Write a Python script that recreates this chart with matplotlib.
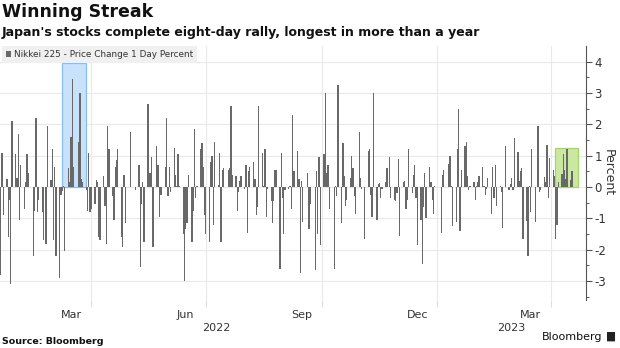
import numpy as np
import pandas as pd
import matplotlib.pyplot as plt
from matplotlib.patches import Rectangle, FancyBboxPatch

plt.rcParams['axes.unicode_minus'] = False

# Nikkei 225 daily % change, 19 Jan 2022 - 18 Apr 2023
pct_change = [
    -2.8, 1.1, -0.9, 0.25, -1.6, -0.4, -3.1, 2.1, 1.05,
    0.3, 1.7, -1.05, 0.7, -0.7, 0.17, 1.05, 0.45, -2.2, -0.75, 2.2, -0.8, -0.4, -0.8, -1.7, -1.8, 1.95, 0.22,
    1.2, -1.7, 0.65, -2.2, -2.9, -0.25, -0.13, 0.02, -2.05, 0.6, 0.15, 1.6, 3.45, 0.65, 1.45, 3.0, 0.25, 0.17, -0.1, -0.75, 1.1, -0.8,
    -0.7, -0.55, 0.22, 0.17, -1.6, -1.7, 0.35, -0.6, -1.8, 1.95, 1.2, -0.3, -1.05, 0.65, 0.85, 1.2, -1.6, -1.9, 0.4, -1.15,
    1.75, -0.1, 0.7, -2.55, -0.55, 0.17, -1.75, 2.65, 0.45, 0.45, 0.95, -1.9, 1.3, 0.7, -0.95, -0.25, -0.25, 0.65, 2.2,
    -0.3, 0.65, -0.15, 1.25, 0.4, 0.05, 1.05, 0.05, -1.5, -3.0, -1.35, -1.15, 0.4, -1.75, -0.75, 1.85, -0.35, 0.05, 1.2, 1.4, 0.65, -0.9,
    -1.5, -1.75, 0.8, 1.0, -1.2, 1.45, 0.07, 1.1, -1.75, 0.55, 0.6, 0.55, 0.6, 2.6, 0.4, 0.35, -0.75, -0.15, 0.2, 0.35,
    -0.05, 0.7, -1.45, 0.5, 0.65, 0.8, 0.25, -0.9, -0.65, 2.6, 1.1, 0.02, 1.2, -0.95, -0.05, -0.45, -1.15, -0.45, 0.55, 0.55, -2.6, 1.1, -0.35,
    -1.5, -0.1, -0.05, 0.02, -0.7, 2.3, 0.5, 1.15, 0.25, -2.75, 0.2, -1.1, 0.45, -1.35, -0.55, -2.65, 0.5, -1.5, 0.95, -1.85,
    1.05, 3.0, 0.45, 0.7, -0.7, -2.6, 0.02, -0.3, 3.25, -1.15, 1.4, 0.35, -0.6, -0.4, 0.3, 1.0, 0.6, -0.3, -0.85, 1.75,
    0.3, -0.05, -1.65, 1.15, 1.2, -0.25, -0.95, 3.0, -1.05, 0.1, 0.12, -0.35, -0.05, 0.15, 0.6, 0.95, -0.35, -0.4, -0.45, -0.2,
    0.9, -1.55, 0.15, 0.2, -0.7, -0.4, 1.2, -0.2, 0.4, 0.7, -0.35, -1.85, -1.05, -2.45, -0.65, 0.45, -1.0, 0.65, 0.15, -0.4, -0.85, 0.02,
    -1.45, 0.4, 0.55, 0.75, 1.0, 0.02, -1.25, -1.1, 1.2, 2.5, -1.4, 0.55, 1.3, 1.45, 0.35, -0.1, 0.05, 0.15, -0.4,
    0.05, 0.17, 0.35, 0.65, 0.05, -0.25, -0.05, 0.3, -0.85, 0.65, -0.35, 0.7, -0.6, 0.05, -0.15, -1.3, 1.3, -0.1, 0.1,
    0.28, -0.1, 1.57, 1.13, 0.2, 0.5, 0.62, -1.67, -1.08, -2.2, 0.02, -0.8, 1.2, -1.1, 1.95, -0.15, -0.1, 0.33, 0.17, 1.34, -0.36, 0.94,
    0.54, 0.36, -1.66, -1.2, 0.17, 0.43, 1.05, 0.56, 0.26, 1.2, 0.22, 0.52,
]

# Tokyo exchange holidays on weekdays in the period
tse_holidays = ['2022-02-11', '2022-02-23', '2022-03-21', '2022-04-29', '2022-05-03', '2022-05-04',
                '2022-05-05', '2022-07-18', '2022-09-19', '2022-09-23', '2022-10-10', '2022-11-03',
                '2022-11-23', '2023-01-02', '2023-01-03', '2023-01-09', '2023-02-23', '2023-03-21']

quarter_starts = ['2022-04-01', '2022-07-01', '2022-10-01', '2023-01-01', '2023-04-01']
month_labels = ['Mar', 'Jun', 'Sep', 'Dec', 'Mar']
month_label_dates = ['2022-03-16', '2022-06-15', '2022-09-15', '2022-12-16', '2023-03-16']
year_labels = ['2022', '2023']
year_label_dates = ['2022-07-09', '2023-03-01']

# highlighted winning streaks (start, end, top)
streak_2022 = ('2022-03-09 03:00', '2022-03-28 03:00', 3.95)
streak_2023 = ('2023-04-04 14:00', '2023-04-23 00:00', 1.25)

dates = pd.date_range('2022-01-19', periods=len(pct_change),
                      freq=pd.offsets.CustomBusinessDay(holidays=tse_holidays))

fig = plt.figure(figsize=(6.2, 3.48), dpi=100)
ax = fig.add_axes([0, 0.138, 0.945, 0.730])

# highlight boxes
for (start, end, top), face, edge in [(streak_2022, '#c9e2fb', '#86bdf2'),
                                      (streak_2023, '#cbe8a2', '#a5d56b')]:
    s = pd.Timestamp(start)
    e = pd.Timestamp(end)
    ax.add_patch(Rectangle((s, 0), e - s, top, facecolor=face, edgecolor=edge,
                           linewidth=0.9, zorder=1))

ax.bar(dates, pct_change, width=1.0, color='#696969', zorder=2,
       label='Nikkei 225 - Price Change 1 Day Percent')

ax.set_xlim(pd.Timestamp('2022-01-18 12:00'), pd.Timestamp('2023-04-29'))
ax.set_ylim(-3.6, 4.5)

# grid
ax.set_yticks(np.arange(-3, 5, 1))
ax.set_yticks(np.arange(-3.5, 4.5, 0.5), minor=True)
ax.set_xticks(pd.to_datetime(quarter_starts))
ax.set_xticklabels([''] * len(quarter_starts))
ax.set_xticks(pd.to_datetime(month_label_dates), minor=True)
ax.set_xticklabels(month_labels, minor=True)
ax.grid(True, which='major', color='#e9e9e9', linewidth=0.8, zorder=0)
ax.set_axisbelow(True)

ax.yaxis.tick_right()
ax.yaxis.set_label_position('right')
for side in ['top', 'left', 'bottom']:
    ax.spines[side].set_visible(False)
ax.spines['right'].set_color('#555555')
ax.spines['right'].set_linewidth(0.8)

ax.tick_params(axis='y', which='major', length=4, width=0.8, color='#555555',
               labelsize=8.5, labelcolor='#333333', pad=2)
ax.tick_params(axis='y', which='minor', length=2.5, width=0.7, color='#555555')
ax.tick_params(axis='x', which='major', length=5, width=0.8, color='#dddddd')
ax.tick_params(axis='x', which='minor', length=0, labelsize=8, labelcolor='#333333', pad=7)
ax.set_ylabel('Percent', rotation=270, fontsize=9, color='#333333', labelpad=6)

for label, d in zip(year_labels, year_label_dates):
    ax.text(pd.Timestamp(d), -0.11, label, transform=ax.get_xaxis_transform(),
            ha='center', va='center', fontsize=8, color='#333333')

leg = ax.legend(loc='upper left', bbox_to_anchor=(0.003, 1.0), frameon=True, fancybox=False,
                facecolor='#f0f0f0', edgecolor='none', framealpha=1, fontsize=6.4,
                handlelength=0.6, handleheight=0.6, handletextpad=0.3,
                borderpad=0.45, borderaxespad=0)
for t in leg.get_texts():
    t.set_color('#333333')

fig.text(0.003, 0.965, 'Winning Streak', fontsize=12.5, weight='bold', va='center', color='#111111')
fig.text(0.003, 0.908, "Japan's stocks complete eight-day rally, longest in more than a year",
         fontsize=9, weight='bold', va='center', color='#111111')
fig.text(0.003, 0.02, 'Source: Bloomberg', fontsize=6.8, weight='bold', va='center', color='#111111')
fig.text(0.972, 0.032, 'Bloomberg', fontsize=8, ha='right', va='center', color='#111111')
fig.patches.append(FancyBboxPatch((0.980, 0.02), 0.011, 0.025, boxstyle='round,pad=0.001',
                                  transform=fig.transFigure, facecolor='#222222', edgecolor='none'))

fig.savefig('out.png', dpi=100)
